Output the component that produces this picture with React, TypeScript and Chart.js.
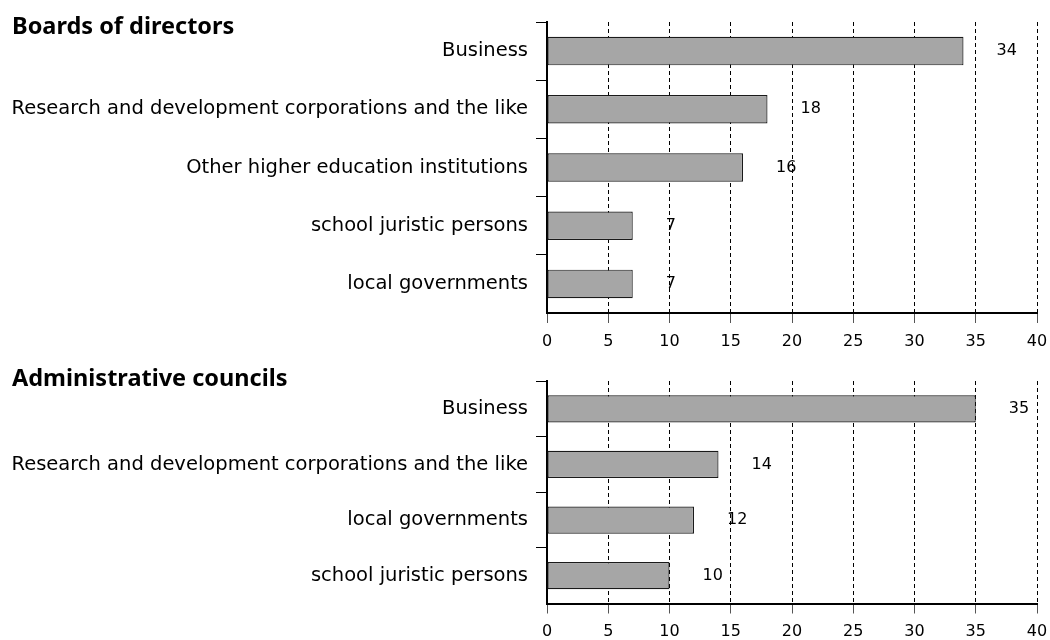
import React, { useEffect, useRef } from "react";
import { Chart, registerables } from "chart.js";

Chart.register(...registerables);

const boardTitle = "Boards of directors";
const boardCategories = [
  "Business",
  "Research and development corporations and the like",
  "Other higher education institutions",
  "school juristic persons",
  "local governments",
];
const boardValues = [34, 18, 16, 7, 7];

const councilTitle = "Administrative councils";
const councilCategories = [
  "Business",
  "Research and development corporations and the like",
  "local governments",
  "school juristic persons",
];
const councilValues = [35, 14, 12, 10];

const axisMin = 0;
const axisMax = 40;
const axisStep = 5;

const LABEL_FAMILY = "'DejaVu Sans', sans-serif";
const TITLE_FONT = "700 23.5px 'Noto Sans', sans-serif";

function makeConfig(
  title: string,
  labels: string[],
  values: number[],
  areaTop: number,
  xAxisHeight: number,
  titleBaseline: number
): any {
  const titlePlugin = {
    id: "panelTitle",
    afterDraw(chart: any) {
      const ctx = chart.ctx;
      ctx.save();
      ctx.font = TITLE_FONT;
      ctx.fillStyle = "#000";
      ctx.textAlign = "left";
      ctx.textBaseline = "alphabetic";
      ctx.fillText(title, 12, titleBaseline);
      ctx.restore();
    },
  };
  const valuePlugin = {
    id: "valueLabels",
    afterDatasetsDraw(chart: any) {
      const ctx = chart.ctx;
      const meta = chart.getDatasetMeta(0);
      ctx.save();
      ctx.font = "16px " + LABEL_FAMILY;
      ctx.fillStyle = "#000";
      ctx.textAlign = "left";
      ctx.textBaseline = "middle";
      meta.data.forEach((bar: any, i: number) => {
        ctx.fillText(String(values[i]), bar.x + 33, bar.y);
      });
      ctx.restore();
    },
  };
  return {
    type: "bar",
    data: {
      labels,
      datasets: [
        {
          data: values,
          backgroundColor: "#a6a6a6",
          borderColor: "#1a1a1a",
          borderWidth: 1.2,
          borderSkipped: false,
          barPercentage: 0.49,
          categoryPercentage: 1,
        },
      ],
    },
    options: {
      indexAxis: "y",
      responsive: false,
      animation: false,
      devicePixelRatio: 1,
      layout: { padding: { top: areaTop, right: 13, bottom: 0, left: 0 } },
      plugins: {
        legend: { display: false },
        tooltip: { enabled: false },
        title: { display: false },
      },
      scales: {
        x: {
          type: "linear",
          position: "bottom",
          min: axisMin,
          max: axisMax,
          ticks: {
            stepSize: axisStep,
            color: "#000",
            font: { family: LABEL_FAMILY, size: 16 },
            padding: 9,
          },
          grid: {
            color: (c: any) =>
              c.tick && c.tick.value === 0 ? "rgba(0,0,0,0)" : "#000",
            lineWidth: 1,
            tickColor: "#555",
            tickLength: 10,
            tickWidth: 1,
          },
          border: { display: true, color: "#000", width: 2, dash: [4, 3] },
          afterFit: (s: any) => {
            s.height = xAxisHeight;
            s.paddingLeft = 0;
            s.paddingRight = 0;
          },
        },
        y: {
          type: "category",
          offset: true,
          ticks: {
            color: "#000",
            font: { family: LABEL_FAMILY, size: 19.5 },
            padding: 8,
          },
          grid: {
            offset: true,
            drawOnChartArea: false,
            drawTicks: true,
            tickLength: 11,
            tickWidth: 1,
            tickColor: (c: any) => (c.type === "tick" ? "#000" : "rgba(0,0,0,0)"),
          },
          border: { display: true, color: "#000", width: 2 },
          afterFit: (s: any) => {
            s.width = 547;
            s.paddingTop = 0;
            s.paddingBottom = 0;
          },
        },
      },
    },
    plugins: [titlePlugin, valuePlugin],
  };
}

function BarPanel(props: {
  title: string;
  labels: string[];
  values: number[];
  height: number;
  areaTop: number;
  xAxisHeight: number;
  titleBaseline: number;
}) {
  const ref = useRef<HTMLCanvasElement | null>(null);
  useEffect(() => {
    if (!ref.current) return;
    const chart = new Chart(
      ref.current,
      makeConfig(
        props.title,
        props.labels,
        props.values,
        props.areaTop,
        props.xAxisHeight,
        props.titleBaseline
      )
    );
    return () => chart.destroy();
  }, []);
  return (
    <canvas
      ref={ref}
      width={1050}
      height={props.height}
      style={{ display: "block", width: 1050, height: props.height }}
    />
  );
}

export default function App() {
  return (
    <div
      style={{
        position: "absolute",
        left: 0,
        top: 0,
        width: 1050,
        height: 640,
        background: "#fff",
      }}
    >
      <BarPanel
        title={boardTitle}
        labels={boardCategories}
        values={boardValues}
        height={360}
        areaTop={22}
        xAxisHeight={47}
        titleBaseline={34}
      />
      <BarPanel
        title={councilTitle}
        labels={councilCategories}
        values={councilValues}
        height={280}
        areaTop={21}
        xAxisHeight={36.5}
        titleBaseline={26}
      />
    </div>
  );
}
